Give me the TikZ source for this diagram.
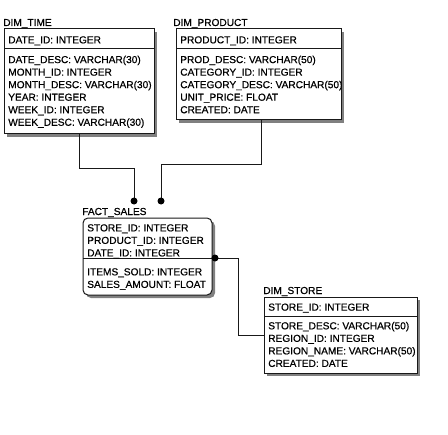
\documentclass[tikz,border=0pt]{standalone}
\usepackage{fontspec}
\setmainfont{Liberation Sans}
\newfontfamily\erfont{Liberation Sans}[FakeBold=0.6]
\usetikzlibrary{fit,shadows}

\tikzset{
  tbl/.style={draw=black!90, line width=0.75pt, fill=white, inner sep=0pt,
    drop shadow={shadow xshift=2.25pt, shadow yshift=-2.25pt, fill=black!50, opacity=1}},
  rows/.style={anchor=north west, inner sep=0pt, align=left, font=\erfont\fontsize{7.6}{9.4}\selectfont},
  tname/.style={anchor=base west, inner sep=0pt, font=\erfont\fontsize{7.6}{9.4}\selectfont},
  fk/.style={draw=black!90, line width=0.75pt},
}

\begin{document}
\begin{tikzpicture}[x=0.75pt, y=-0.75pt]
	\useasboundingbox (0,0) rectangle (448,434);
	% DIM_TIME
	\node[tname] (ltime) at (3,26) {DIM\_TIME};
	\node[tbl, fit={(4,29) (154,134)}] (time) {};
	\draw[fk] (4,49) -- (154,49);
	\node[rows] (ktime) at (8,36) {DATE\_ID: INTEGER};
	\node[rows] (ctime) at (8,55.5) {DATE\_DESC: VARCHAR(30)\\MONTH\_ID: INTEGER\\MONTH\_DESC: VARCHAR(30)\\YEAR: INTEGER\\WEEK\_ID: INTEGER\\WEEK\_DESC: VARCHAR(30)};
	% DIM_PRODUCT
	\node[tname] (lprod) at (173,26) {DIM\_PRODUCT};
	\node[tbl, fit={(176,29) (341,120)}] (product) {};
	\draw[fk] (176,49) -- (341,49);
	\node[rows] (kprod) at (180,36) {PRODUCT\_ID: INTEGER};
	\node[rows] (cprod) at (180,55.5) {PROD\_DESC: VARCHAR(50)\\CATEGORY\_ID: INTEGER\\CATEGORY\_DESC: VARCHAR(50)\\UNIT\_PRICE: FLOAT\\CREATED: DATE};
	% FACT_SALES
	\node[tname] (lfact) at (82,215) {FACT\_SALES};
	\node[tbl, rounded corners=3.75pt, fit={(83,218) (212,295)}] (fact) {};
	\draw[fk] (83,258) -- (212,258);
	\node[rows] (kfact) at (87,224) {STORE\_ID: INTEGER\\PRODUCT\_ID: INTEGER\\DATE\_ID: INTEGER};
	\node[rows] (cfact) at (87,268) {ITEMS\_SOLD: INTEGER\\SALES\_AMOUNT: FLOAT};
	% DIM_STORE
	\node[tname] (lstore) at (263,294) {DIM\_STORE};
	\node[tbl, fit={(264,297) (417,373)}] (store) {};
	\draw[fk] (264,316) -- (417,316);
	\node[rows] (kstore) at (268,303.3) {STORE\_ID: INTEGER};
	\node[rows] (cstore) at (268,321.7) {STORE\_DESC: VARCHAR(50)\\REGION\_ID: INTEGER\\REGION\_NAME: VARCHAR(50)\\CREATED: DATE};
	% links
	\coordinate (dtime) at (134,201);
	\coordinate (dprod) at (161,201);
	\coordinate (dfact) at (215,258);
	\draw[fk] (time.south) -- ++(0,34) -| (dtime);
	\draw[fk] ([xshift=2.6pt]product.south) -- ++(0,44) -| (dprod);
	\draw[fk] (dfact) -- ++(23,0) |- (store.west);
	\fill (dtime) circle (3.5);
	\fill (dprod) circle (3.5);
	\fill (dfact) circle (3.5);
\end{tikzpicture}
\end{document}
